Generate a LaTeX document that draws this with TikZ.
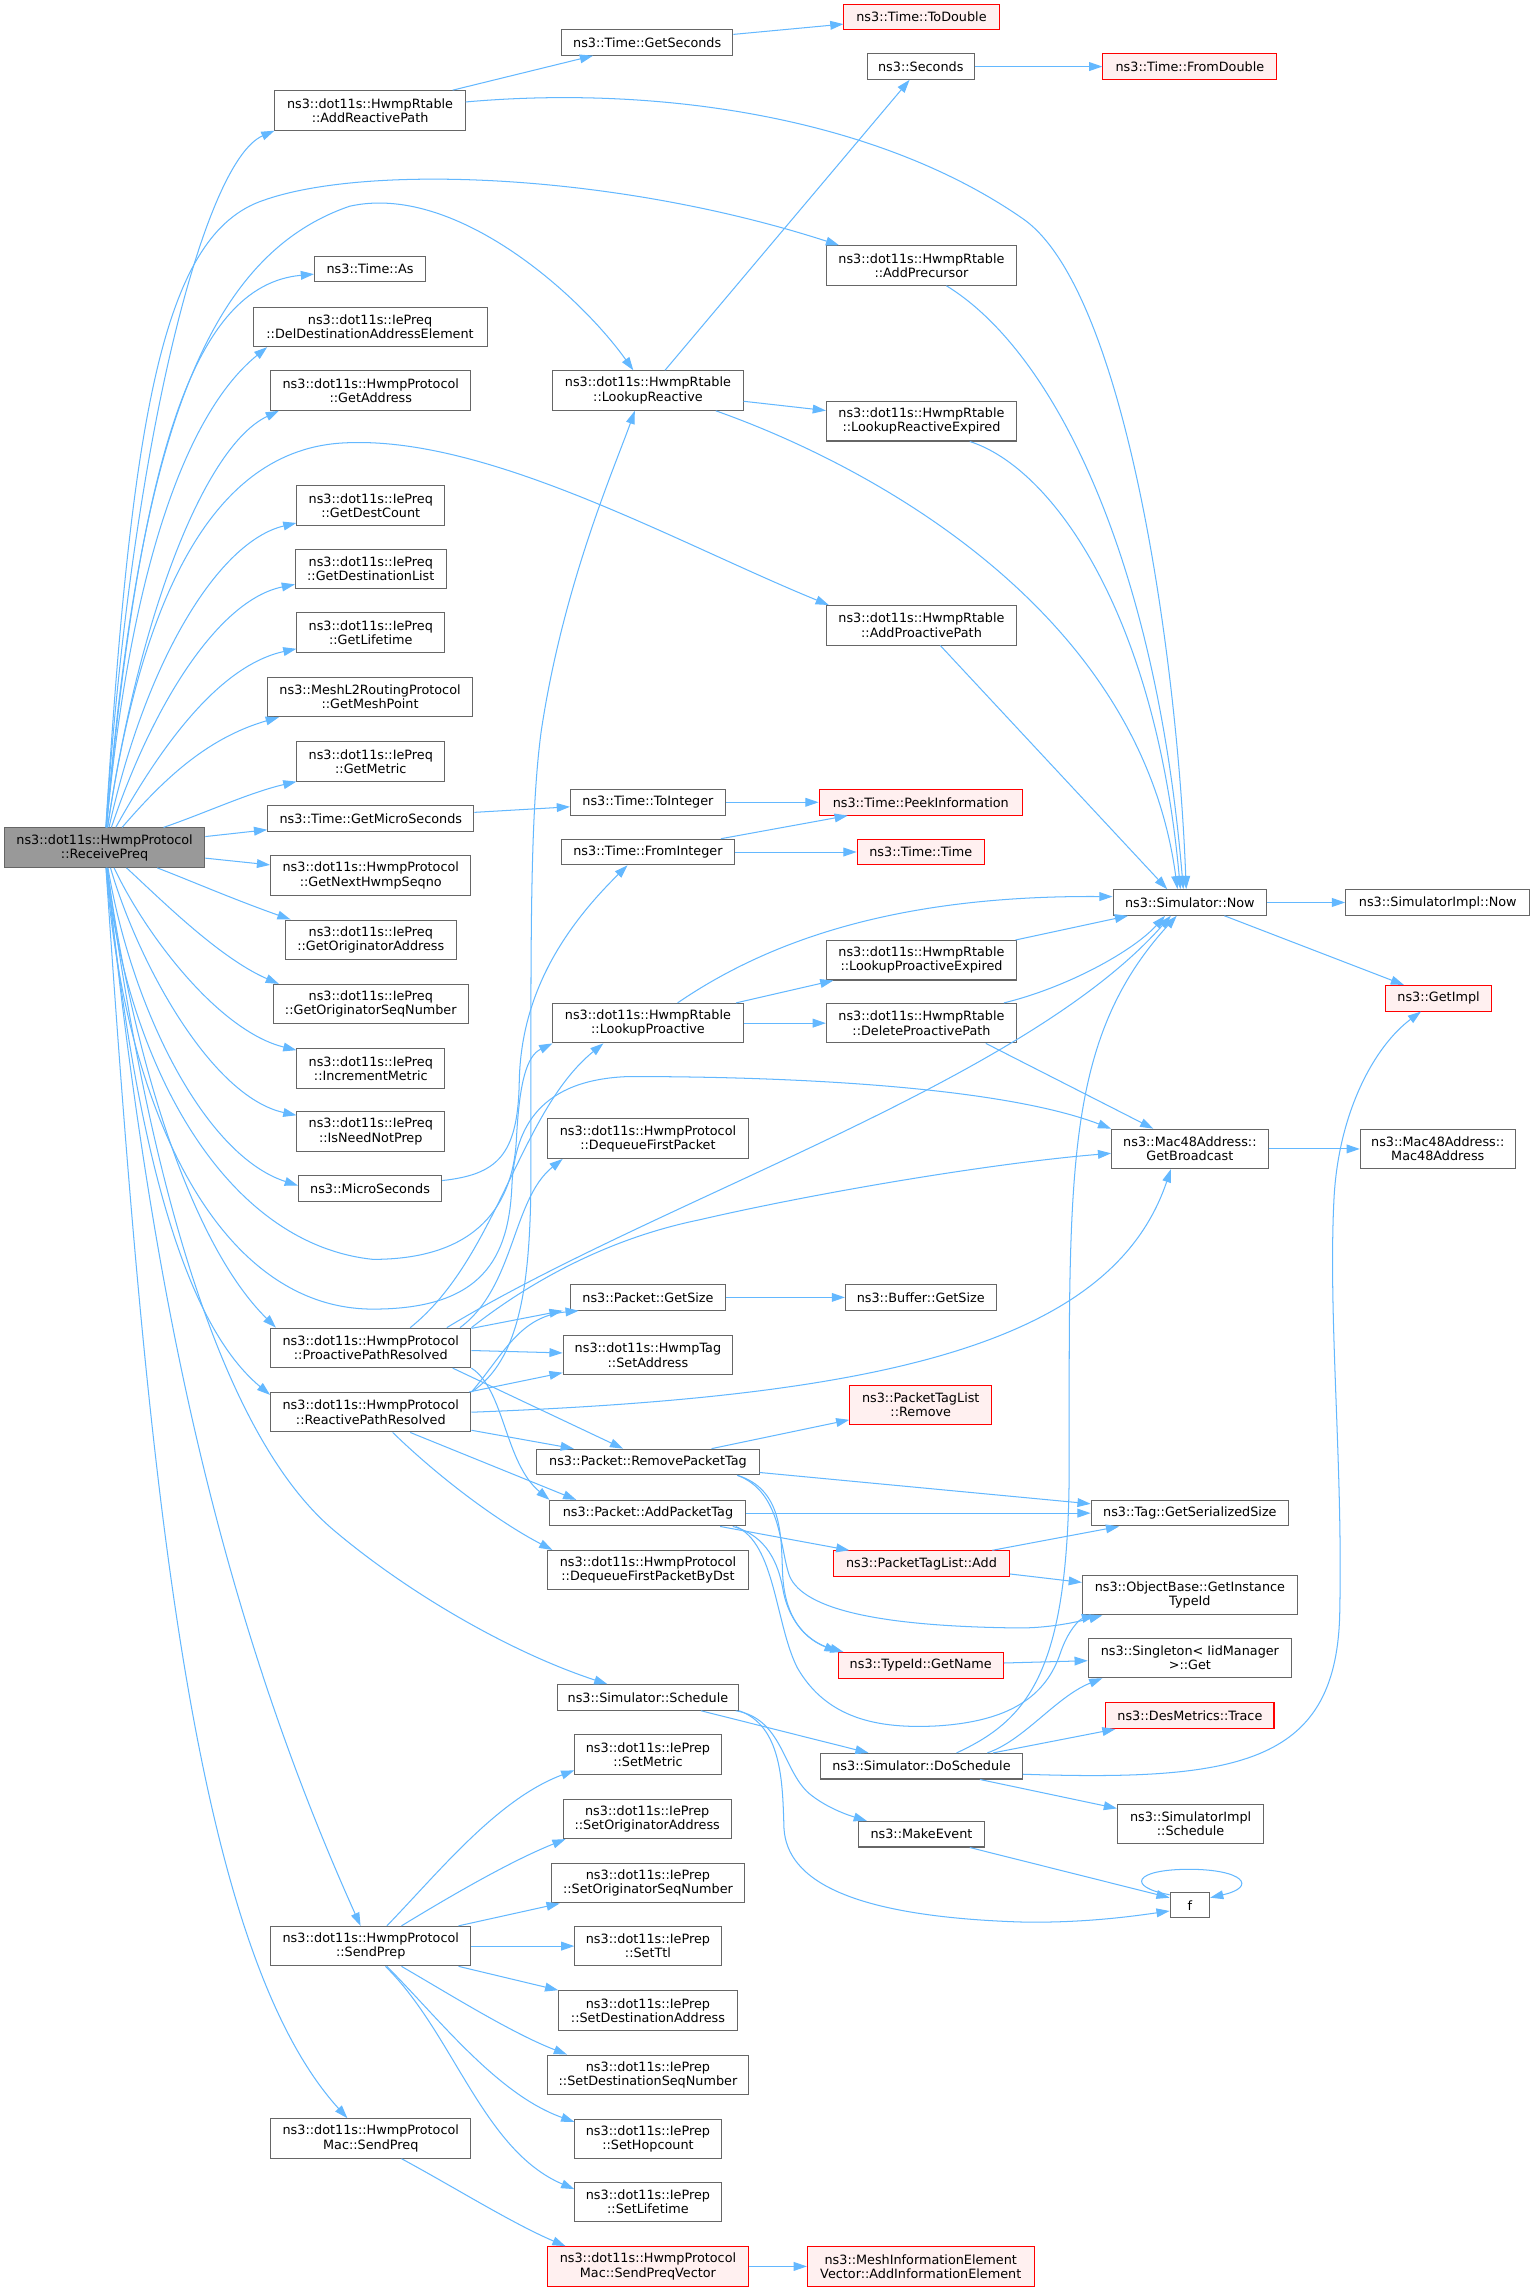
\documentclass[tikz,border=0pt]{standalone}
\usepackage{fontspec}
\setmainfont{DejaVu Sans}
\usetikzlibrary{arrows.meta}
\definecolor{edgeblue}{HTML}{63B8FF}
\definecolor{boxgray}{HTML}{666666}
\definecolor{rootfill}{HTML}{999999}
\definecolor{redfill}{HTML}{FFF0F0}
\newcommand{\mybox}[7][nbox]{\node[#1, minimum width=#5pt, minimum height=#6pt] (#2) at (#3,#4) {#7};}
\begin{document}
\begin{tikzpicture}[x=1pt,y=-1pt,
 nbox/.style={draw=boxgray, fill=white, line width=0.7pt, inner sep=0pt, align=center, font=\fontsize{8.75}{9.7}\selectfont, text=black},
 rbox/.style={nbox, draw=red, fill=redfill},
 rootbox/.style={nbox, fill=rootfill},
 conn/.style={draw=edgeblue, line width=0.7pt, -{Triangle[length=9pt,width=6pt]}},
]
\fill[white] (0,0) rectangle (1048,1567);
\useasboundingbox (0,0) rectangle (1048,1567);
% column 1-2
\mybox[rootbox]{recv}{71.5}{579.5}{137}{27}{ns3::dot11s::HwmpProtocol\\::ReceivePreq}
\mybox{arp}{253}{75.5}{130}{27}{ns3::dot11s::HwmpRtable\\::AddReactivePath}
\mybox{as}{253}{184}{76}{17.5}{ns3::Time::As}
\mybox{del}{253}{223.5}{160}{27}{ns3::dot11s::IePreq\\::DelDestinationAddressElement}
\mybox{gaddr}{253.5}{267}{137}{27}{ns3::dot11s::HwmpProtocol\\::GetAddress}
\mybox{gdc}{253.5}{345.5}{101}{27}{ns3::dot11s::IePreq\\::GetDestCount}
\mybox{gdl}{253.5}{389}{103}{27}{ns3::dot11s::IePreq\\::GetDestinationList}
\mybox{glt}{253.5}{432.5}{101}{27}{ns3::dot11s::IePreq\\::GetLifetime}
\mybox{gmp}{253}{476.5}{140}{27}{ns3::MeshL2RoutingProtocol\\::GetMeshPoint}
\mybox{gmet}{253.5}{520.5}{101}{27}{ns3::dot11s::IePreq\\::GetMetric}
\mybox{gms}{253.5}{559.5}{141}{17.5}{ns3::Time::GetMicroSeconds}
\mybox{gnhs}{253.5}{598.5}{137}{27}{ns3::dot11s::HwmpProtocol\\::GetNextHwmpSeqno}
\mybox{goa}{253.5}{642.5}{117}{27}{ns3::dot11s::IePreq\\::GetOriginatorAddress}
\mybox{gosn}{253.5}{686.5}{133}{27}{ns3::dot11s::IePreq\\::GetOriginatorSeqNumber}
\mybox{inc}{253.5}{730.5}{101}{27}{ns3::dot11s::IePreq\\::IncrementMetric}
\mybox{inp}{253.5}{773.5}{101}{27}{ns3::dot11s::IePreq\\::IsNeedNotPrep}
\mybox{mus}{253}{812.5}{98}{17.5}{ns3::MicroSeconds}
\mybox{ppr}{253.5}{921.5}{137}{27}{ns3::dot11s::HwmpProtocol\\::ProactivePathResolved}
\mybox{rpr}{253.5}{965.5}{137}{27}{ns3::dot11s::HwmpProtocol\\::ReactivePathResolved}
\mybox{sprep}{253.5}{1330.5}{137}{27}{ns3::dot11s::HwmpProtocol\\::SendPrep}
\mybox{spm}{253.5}{1462}{137}{27}{ns3::dot11s::HwmpProtocol\\Mac::SendPreq}
% column 3
\mybox{gsec}{442.5}{29}{117}{17.5}{ns3::Time::GetSeconds}
\mybox{lr}{443}{267}{130}{27}{ns3::dot11s::HwmpRtable\\::LookupReactive}
\mybox{toi}{443}{548.5}{106}{17.5}{ns3::Time::ToInteger}
\mybox{fi}{443}{582.5}{118}{17.5}{ns3::Time::FromInteger}
\mybox{lp}{443}{699.5}{130}{27}{ns3::dot11s::HwmpRtable\\::LookupProactive}
\mybox{dfp}{443}{778.5}{138}{27}{ns3::dot11s::HwmpProtocol\\::DequeueFirstPacket}
\mybox{gsize}{443}{887}{106}{17.5}{ns3::Packet::GetSize}
\mybox{sa}{443}{926.5}{116}{27}{ns3::dot11s::HwmpTag\\::SetAddress}
\mybox{rpt}{443}{999.5}{152}{17.5}{ns3::Packet::RemovePacketTag}
\mybox{apt}{443}{1034.5}{134}{17.5}{ns3::Packet::AddPacketTag}
\mybox{dfpd}{443}{1073.5}{138}{27}{ns3::dot11s::HwmpProtocol\\::DequeueFirstPacketByDst}
\mybox{ss}{443}{1160.5}{124}{17.5}{ns3::Simulator::Schedule}
\mybox{smet}{443}{1199.5}{100}{27}{ns3::dot11s::IePrep\\::SetMetric}
\mybox{soa}{442.5}{1243.5}{115}{27}{ns3::dot11s::IePrep\\::SetOriginatorAddress}
\mybox{sosn}{443}{1287.5}{132}{27}{ns3::dot11s::IePrep\\::SetOriginatorSeqNumber}
\mybox{sttl}{443}{1330.5}{100}{27}{ns3::dot11s::IePrep\\::SetTtl}
\mybox{sda}{443}{1374.5}{122}{27}{ns3::dot11s::IePrep\\::SetDestinationAddress}
\mybox{sdsn}{443}{1418.5}{138}{27}{ns3::dot11s::IePrep\\::SetDestinationSeqNumber}
\mybox{shc}{443}{1462.5}{100}{27}{ns3::dot11s::IePrep\\::SetHopcount}
\mybox{slt}{443}{1505.5}{100}{27}{ns3::dot11s::IePrep\\::SetLifetime}
\mybox[rbox]{spv}{443}{1549.5}{138}{27}{ns3::dot11s::HwmpProtocol\\Mac::SendPreqVector}
% column 4
\mybox[rbox]{todbl}{630}{11.5}{106}{17.5}{ns3::Time::ToDouble}
\mybox{sec}{629.5}{45.5}{73}{17.5}{ns3::Seconds}
\mybox{apc}{630}{181.5}{130}{27}{ns3::dot11s::HwmpRtable\\::AddPrecursor}
\mybox{lre}{630}{288}{130}{27}{ns3::dot11s::HwmpRtable\\::LookupReactiveExpired}
\mybox{app}{630}{427.5}{130}{27}{ns3::dot11s::HwmpRtable\\::AddProactivePath}
\mybox[rbox]{peek}{629.5}{548.5}{139}{17.5}{ns3::Time::PeekInformation}
\mybox[rbox]{ttime}{629.5}{582.5}{87}{17.5}{ns3::Time::Time}
\mybox{lpe}{630}{656.5}{130}{27}{ns3::dot11s::HwmpRtable\\::LookupProactiveExpired}
\mybox{dpp}{630}{699.5}{130}{27}{ns3::dot11s::HwmpRtable\\::DeleteProactivePath}
\mybox{bgs}{629.5}{887}{103}{17.5}{ns3::Buffer::GetSize}
\mybox[rbox]{ptlr}{629.5}{960.5}{97}{27}{ns3::PacketTagList\\::Remove}
\mybox[rbox]{ptla}{630}{1069}{120}{17.5}{ns3::PacketTagList::Add}
\mybox[rbox]{tgn}{629.5}{1138.5}{113}{17.5}{ns3::TypeId::GetName}
\mybox{dos}{630}{1207.5}{138}{17.5}{ns3::Simulator::DoSchedule}
\mybox{mev}{630}{1254}{86}{17.5}{ns3::MakeEvent}
\mybox[rbox]{aie}{629.5}{1549.5}{155}{27}{ns3::MeshInformationElement\\Vector::AddInformationElement}
% column 5
\mybox[rbox]{fd}{813.5}{45.5}{119}{17.5}{ns3::Time::FromDouble}
\mybox{now}{813.5}{617}{105}{17.5}{ns3::Simulator::Now}
\mybox{gb}{813.5}{785.5}{107}{27}{ns3::Mac48Address::\\GetBroadcast}
\mybox{tgs}{813.5}{1034.5}{135}{17.5}{ns3::Tag::GetSerializedSize}
\mybox{obt}{813.5}{1090.5}{147}{27}{ns3::ObjectBase::GetInstance\\TypeId}
\mybox{sing}{813.5}{1133.5}{139}{27}{ns3::Singleton< IidManager\\ >::Get}
\mybox[rbox]{dmt}{813.5}{1173}{115}{17.5}{ns3::DesMetrics::Trace}
\mybox{sis}{814}{1247}{100}{27}{ns3::SimulatorImpl\\::Schedule}
\mybox{f}{813.5}{1302.5}{27}{17.5}{f}
% column 6
\mybox{sin}{983}{617}{126}{17.5}{ns3::SimulatorImpl::Now}
\mybox[rbox]{gimpl}{983.5}{682.5}{73}{17.5}{ns3::GetImpl}
\mybox{mac}{983}{785.5}{106}{27}{ns3::Mac48Address::\\Mac48Address}

% edges from ReceivePreq
\draw[conn] (recv) .. controls (90,300) and (140,110) .. (arp.south west);
\draw[conn] (recv) .. controls (90,280) and (112,160) .. (180,137) .. controls (250,112) and (420,118) .. ([xshift=9pt]apc.north west);
\draw[conn] (recv) .. controls (95,300) and (140,175) .. (239,141) .. controls (310,125) and (395,200) .. ([xshift=-10pt]lr.north);
\draw[conn] (recv) .. controls (95,320) and (130,195) .. (as);
\draw[conn] (recv) .. controls (90,380) and (130,280) .. ([xshift=10pt]del.south west);
\draw[conn] (recv) .. controls (95,420) and (140,305) .. ([xshift=6pt]gaddr.south west);
\draw[conn] (recv) .. controls (95,420) and (140,310) .. (232,303) .. controls (330,296) and (460,370) .. ([xshift=2pt]app.north west);
\draw[conn] (recv) .. controls (100,450) and (150,370) .. (gdc);
\draw[conn] (recv) .. controls (105,480) and (150,410) .. (gdl);
\draw[conn] (recv) .. controls (110,510) and (150,455) .. (glt);
\draw[conn] (recv) .. controls (110,535) and (140,505) .. ([xshift=8pt]gmp.south west);
\draw[conn] (recv) .. controls (140,556) and (170,542) .. (gmet.south west);
\draw[conn] (recv) -- (gms);
\draw[conn] (recv) -- (gnhs);
\draw[conn] (recv) .. controls (130,602) and (160,615) .. ([xshift=4pt]goa.north west);
\draw[conn] (recv) .. controls (110,615) and (150,655) .. ([xshift=4pt]gosn.north west);
\draw[conn] (recv) .. controls (100,640) and (150,705) .. (inc);
\draw[conn] (recv) .. controls (95,660) and (145,750) .. (inp);
\draw[conn] (recv) .. controls (90,690) and (140,790) .. ([yshift=2pt]mus.west);
\draw[conn] (recv) .. controls (85,720) and (150,850) .. (255,861) .. controls (320,861) and (350,830) .. (353,780) .. controls (355,740) and (360,722) .. (lp.south west);
\draw[conn] (recv) .. controls (85,760) and (150,895) .. (255,895) .. controls (330,895) and (348,860) .. (350,810) .. controls (352,770) and (370,738) .. (430,736) .. controls (560,736) and (690,745) .. (gb.north west);
\draw[conn] (recv) .. controls (100,800) and (150,980) .. (228,1046) .. controls (280,1090) and (350,1130) .. (ss);
\draw[conn] (recv) .. controls (90,720) and (130,850) .. ([xshift=4pt]ppr.north west);
\draw[conn] (recv) .. controls (90,760) and (120,900) .. ([yshift=-2pt]rpr.north west);
\draw[conn] (recv) .. controls (100,850) and (140,1080) .. ([xshift=-7pt]sprep.north);
\draw[conn] (recv) .. controls (100,1000) and (130,1330) .. ([xshift=-16pt]spm.north);

% upper part
\draw[conn] (arp) -- (gsec);
\draw[conn] (arp) .. controls (450,58) and (600,80) .. (700,150) .. controls (770,200) and (805,450) .. ([xshift=-2.5pt]now.north);
\draw[conn] (gsec) -- (todbl);
\draw[conn] (sec) -- (fd);
\draw[conn] (lr) -- (sec);
\draw[conn] (lr) -- (lre);
\draw[conn] ([xshift=-19pt]lr.south east) .. controls (600,320) and (780,420) .. ([xshift=-8.5pt]now.north);
\draw[conn] ([xshift=17pt]apc.south) .. controls (720,240) and (790,380) .. ([xshift=-4.5pt]now.north);
\draw[conn] ([xshift=33pt]lre.south) .. controls (720,320) and (790,420) .. ([xshift=-6.5pt]now.north);
\draw[conn] (app) -- ([xshift=-15.5pt]now.north);
\draw[conn] (gms) -- (toi);
\draw[conn] (toi) -- (peek);
\draw[conn] (fi) -- (peek);
\draw[conn] (fi) -- (ttime);
\draw[conn] (mus) .. controls (340,803) and (354,790) .. (355,740) .. controls (356,680) and (385,635) .. ([xshift=-14pt]fi.south);
\draw[conn] (lp) .. controls (530,640) and (620,612) .. ([yshift=4pt]now.west);
\draw[conn] (lp) -- (lpe);
\draw[conn] (lp) -- (dpp);
\draw[conn] (lpe) -- (now);
\draw[conn] ([xshift=-9pt]dpp.north east) .. controls (730,675) and (775,650) .. ([xshift=-17pt]now.south);
\draw[conn] ([xshift=44pt]dpp.south) -- ([xshift=-25pt]gb.north);
\draw[conn] (now) -- (sin);
\draw[conn] (now) -- (gimpl);
\draw[conn] (gb) -- (mac);

% ProactivePathResolved
\draw[conn] ([xshift=27pt]ppr.north) .. controls (340,860) and (355,760) .. ([xshift=-30.5pt]lp.south);
\draw[conn] ([xshift=61pt]ppr.north) .. controls (352,880) and (350,820) .. ([xshift=11pt]dfp.south west);
\draw[conn] ([xshift=52pt]ppr.north) .. controls (450,820) and (700,740) .. ([xshift=-13pt]now.south);
\draw[conn] (ppr.north east) .. controls (345,890) and (400,850) .. (478,834) .. controls (560,815) and (680,795) .. ([yshift=-3pt]gb.west);
\draw[conn] (ppr) -- ([xshift=-5pt]gsize.south west);
\draw[conn] (ppr) -- (sa);
\draw[conn] ([xshift=56pt]ppr.south) -- ([xshift=-17pt]rpt.north);
\draw[conn] (ppr.south east) .. controls (345,950) and (345,1000) .. (apt.north west);

% ReactivePathResolved
\draw[conn] (rpr.north east) .. controls (345,925) and (355,900) .. ([xshift=6pt]gsize.south west);
\draw[conn] (rpr) -- (sa);
\draw[conn] (rpr) -- (rpt);
\draw[conn] ([xshift=27pt]rpr.south) -- ([xshift=-49pt]apt.north);
\draw[conn] ([xshift=15pt]rpr.south) .. controls (300,1010) and (340,1040) .. ([xshift=4pt]dfpd.north west);
\draw[conn] (rpr.north east) .. controls (355,930) and (363,880) .. (363,800) .. controls (363,650) and (362,560) .. (370,500) .. controls (385,400) and (420,320) .. ([xshift=-9pt]lr.south);
\draw[conn] (rpr.east) .. controls (600,955) and (760,920) .. ([xshift=-13pt]gb.south);

% packet tags
\draw[conn] (gsize) -- (bgs);
\draw[conn] (rpt) -- (ptlr);
\draw[conn] (rpt) -- (tgs);
\draw[conn] (apt) -- (tgs);
\draw[conn] (apt) -- (ptla);
\draw[conn] ([xshift=61pt]rpt.south) .. controls (535,1018) and (534,1050) .. (535,1075) .. controls (536,1100) and (545,1118) .. (tgn.north west);
\draw[conn] ([xshift=58pt]apt.south) .. controls (525,1050) and (532,1070) .. (535,1085) .. controls (538,1105) and (550,1122) .. ([xshift=4pt]tgn.north west);
\draw[conn] ([xshift=61pt]rpt.south) .. controls (535,1020) and (533,1060) .. (540,1078) .. controls (550,1100) and (600,1112) .. (697,1113) .. controls (720,1113) and (740,1108) .. ([xshift=14pt]obt.south west);
\draw[conn] ([xshift=60pt]apt.south) .. controls (530,1055) and (530,1110) .. (545,1140) .. controls (565,1175) and (600,1182) .. (640,1180) .. controls (690,1177) and (715,1160) .. (725,1130) .. controls (730,1115) and (738,1107) .. ([xshift=9pt]obt.south west);
\draw[conn] (ptla) -- (tgs);
\draw[conn] (ptla) -- (obt);
\draw[conn] (tgn) -- (sing);

% scheduling
\draw[conn] (ss) -- (dos);
\draw[conn] ([xshift=60pt]ss.south) .. controls (535,1175) and (535,1210) .. (553,1226) .. controls (565,1236) and (580,1241) .. ([xshift=6pt]mev.north west);
\draw[conn] (ss.south east) .. controls (535,1180) and (535,1220) .. (536,1250) .. controls (538,1285) and (580,1310) .. (697,1314) .. controls (740,1315) and (775,1310) .. ([yshift=-4pt]f.west);
\draw[conn] ([xshift=33pt]mev.south) -- ([yshift=-4pt]f.north west);
\draw[conn] ([yshift=-2pt]f.north west) .. controls (770,1290) and (775,1278) .. (813,1278) .. controls (850,1278) and (860,1290) .. ([yshift=-4pt]f.north east);
\draw[conn] ([xshift=24pt]dos.north) .. controls (705,1175) and (731,1140) .. (731,1000) .. controls (731,800) and (728,710) .. ([xshift=-9pt]now.south);
\draw[conn] ([xshift=45pt]dos.north) .. controls (700,1190) and (722,1160) .. ([xshift=10pt]sing.south west);
\draw[conn] ([xshift=49pt]dos.north) -- ([xshift=7pt]dmt.south west);
\draw[conn] ([xshift=40pt]dos.south) -- (sis);
\draw[conn] ([yshift=-5.5pt]dos.east) .. controls (850,1218) and (915,1205) .. (916,1100) .. controls (918,1000) and (908,900) .. (912,820) .. controls (915,760) and (940,715) .. ([xshift=-12pt]gimpl.south);

% SendPrep and SendPreq
\draw[conn] ([xshift=11pt]sprep.north) .. controls (300,1280) and (340,1230) .. ([yshift=3pt]smet.south west);
\draw[conn] ([xshift=21pt]sprep.north) .. controls (310,1295) and (350,1272) .. ([xshift=2pt]soa.south west);
\draw[conn] ([xshift=60pt]sprep.north) -- ([xshift=6pt]sosn.south west);
\draw[conn] (sprep) -- (sttl);
\draw[conn] ([xshift=60pt]sprep.south) -- (sda.north west);
\draw[conn] ([xshift=21pt]sprep.south) .. controls (310,1365) and (350,1390) .. ([xshift=14pt]sdsn.north west);
\draw[conn] ([xshift=11pt]sprep.south) .. controls (300,1380) and (340,1432) .. ([yshift=-2pt]shc.north west);
\draw[conn] ([xshift=10pt]sprep.south) .. controls (310,1390) and (330,1470) .. ([yshift=-5pt]slt.north west);
\draw[conn] ([xshift=21pt]spm.south) .. controls (310,1495) and (350,1520) .. ([xshift=13pt]spv.north west);
\draw[conn] (spv) -- (aie);
\end{tikzpicture}
\end{document}
